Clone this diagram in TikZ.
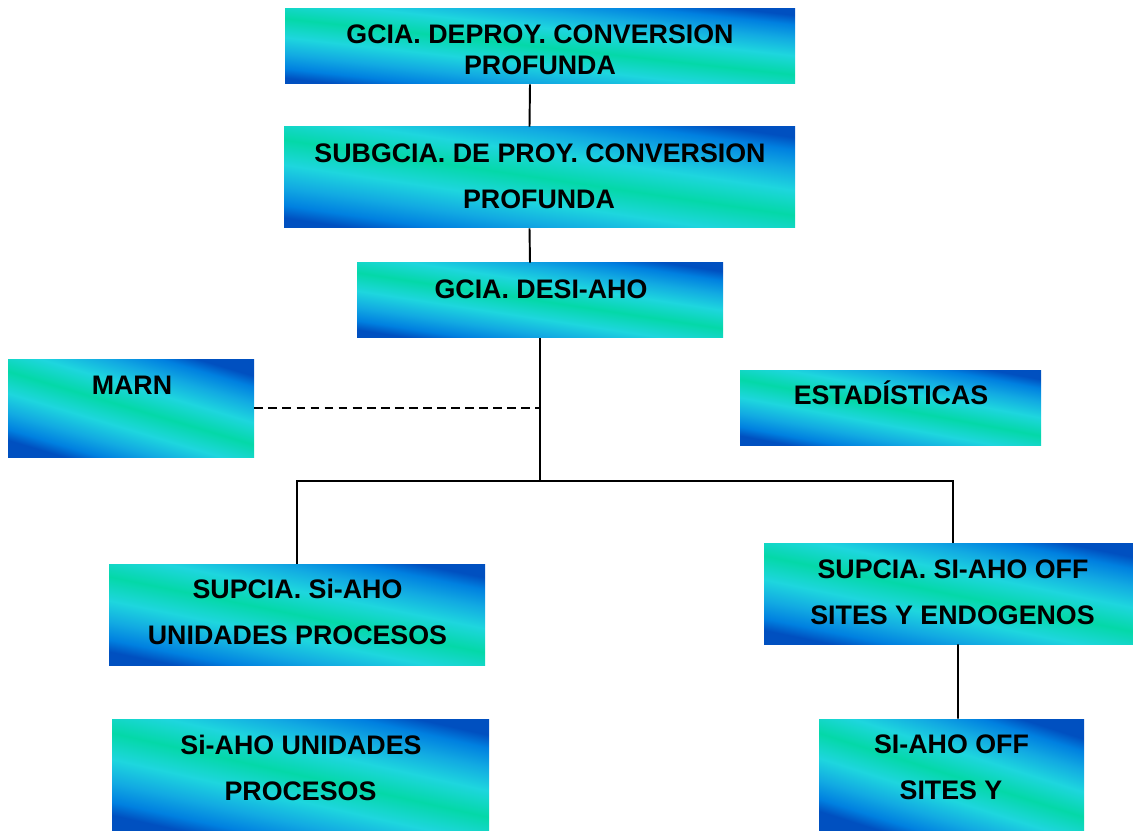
\documentclass[tikz,border=0pt]{standalone}
\usepackage{fontspec}
\setmainfont{Liberation Sans}
\usetikzlibrary{fit}
\definecolor{cA}{HTML}{0050C0}
\definecolor{cB}{HTML}{0080E0}
\definecolor{cC}{HTML}{12AAE2}
\definecolor{cD}{HTML}{1ED6DE}
\definecolor{cE}{HTML}{04D8A8}
\pgfdeclarehorizontalshading{orgshade}{100bp}{color(0bp)=(cA); color(25bp)=(cA); color(29bp)=(cB); color(35bp)=(cC); color(42bp)=(cD); color(50bp)=(cE); color(58bp)=(cD); color(65bp)=(cC); color(71bp)=(cB); color(75bp)=(cA); color(100bp)=(cA)}
\begin{document}
\begin{tikzpicture}[x=0.02cm,y=-0.02cm,
  box/.style={shading=orgshade, shading angle=#1, inner sep=0pt, draw=none},
  lbl/.style={font=\fontsize{15.25}{18}\selectfont\bfseries, inner sep=0pt, text height=10.9pt, text depth=0pt},
  conn/.style={line width=1.1pt, black},
  dconn/.style={line width=0.9pt, black, dash pattern=on 5pt off 3pt}]
\useasboundingbox (0,0) rectangle (1133,831);
% boxes
\node[box=83.7, fit={(285,9) (795,84)}] (b1) {};
\node[box=81.6, fit={(284,127) (795,228)}] (b2) {};
\node[box=81.3, fit={(357,263) (723,338)}] (b3) {};
\node[box=73.4, fit={(8,359) (254,457)}] (b4) {};
\node[box=79.4, fit={(740,370) (1041,445)}] (b5) {};
\node[box=78.6, fit={(109,564) (485,665)}] (b6) {};
\node[box=78.4, fit={(764,543) (1133,644)}] (b7) {};
\node[box=77.4, fit={(112,719) (489,831)}] (b8) {};
\node[box=72.4, fit={(819,719) (1084,831)}] (b9) {};
% texts
\node[lbl] (t1a) at (540,34) {GCIA. DEPROY. CONVERSION};
\node[lbl] (t1b) at (540,64.5) {PROFUNDA};
\node[lbl] (t2a) at (540,153) {SUBGCIA. DE PROY. CONVERSION};
\node[lbl] (t2b) at (539,198.5) {PROFUNDA};
\node[lbl] (t3) at (541,289) {GCIA. DESI-AHO};
\node[lbl] (t4) at (132,384.5) {MARN};
\node[lbl] (t5) at (891,395) {ESTADÍSTICAS};
\node[lbl] (t6a) at (297.5,589) {SUPCIA. Si-AHO};
\node[lbl] (t6b) at (297.5,634.5) {UNIDADES PROCESOS};
\node[lbl] (t7a) at (953,569) {SUPCIA. SI-AHO OFF};
\node[lbl] (t7b) at (952.5,614.5) {SITES Y ENDOGENOS};
\node[lbl] (t8a) at (301,744.5) {Si-AHO UNIDADES};
\node[lbl] (t8b) at (300.5,790.5) {PROCESOS};
\node[lbl] (t9a) at (951.5,743.5) {SI-AHO OFF};
\node[lbl] (t9b) at (951,789.5) {SITES Y};
% connectors
\coordinate (bus) at (540,481);
\draw[conn] ([xshift=-0.2cm]b1.south) -- ([xshift=-0.2cm]b2.north);
\draw[conn] ([xshift=-0.2cm]b2.south) -- ([xshift=-0.2cm]b3.north);
\draw[dconn] (b4.east) -- (b4.east -| bus);
\draw[line width=1.3pt] (b3.south) -- (bus);
\draw[conn] (b6.north) -- (b6.north |- bus) -- ([xshift=0.09cm]b7.north |- bus) -- ([xshift=0.09cm]b7.north);
\draw[conn] ([xshift=0.19cm]b7.south) -- ([xshift=0.13cm]b9.north);
\end{tikzpicture}
\end{document}
